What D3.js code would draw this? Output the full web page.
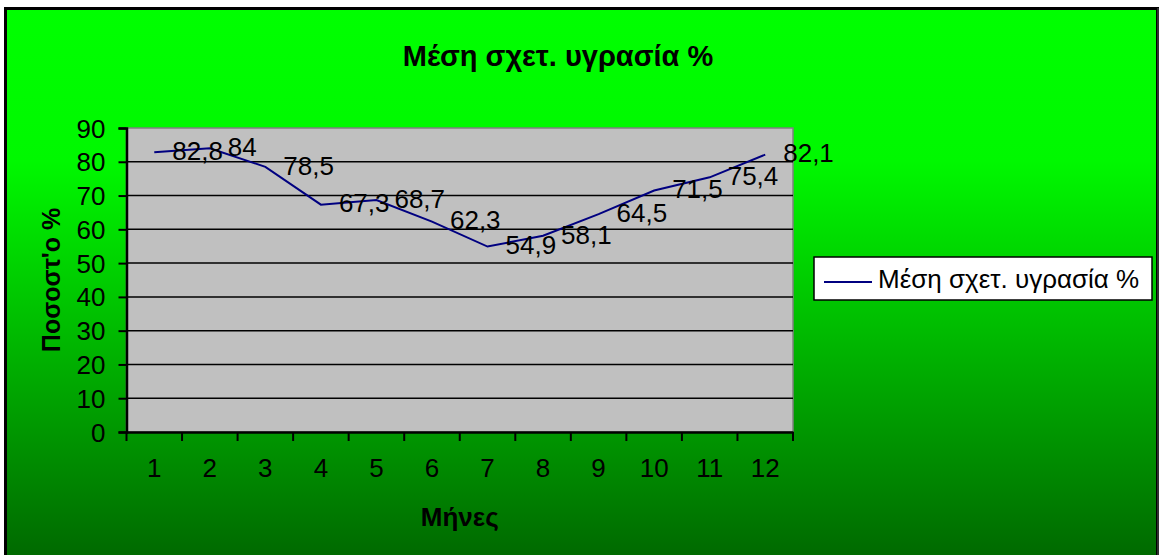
<!DOCTYPE html>
<head>
  <meta charset="utf-8">
  <script src="https://d3js.org/d3.v7.min.js"></script>
  <style>
    body { margin: 0; background: #fff; }
    text { font-family: "Liberation Sans", Arial, sans-serif; fill: #000; }
  </style>
</head>
<body>
  <div id="graph"></div>
  <script>
    // chart data
    var months = ["1", "2", "3", "4", "5", "6", "7", "8", "9", "10", "11", "12"];
    var humidity = [82.8, 84, 78.5, 67.3, 68.7, 62.3, 54.9, 58.1, 64.5, 71.5, 75.4, 82.1];
    var yTicks = [0, 10, 20, 30, 40, 50, 60, 70, 80, 90];
    var title = "Μέση σχετ. υγρασία %";
    var seriesName = "Μέση σχετ. υγρασία %";
    var xTitle = "Μήνες";
    var yTitle = "Ποσοστ'ο %";

    var width = 1159, height = 555;
    var svg = d3.select("#graph").append("svg")
      .attr("width", width)
      .attr("height", height);

    // green gradient background
    var grad = svg.append("defs").append("linearGradient")
      .attr("id", "bg")
      .attr("gradientUnits", "userSpaceOnUse")
      .attr("x1", 0).attr("y1", 8).attr("x2", 0).attr("y2", 555);
    grad.append("stop").attr("offset", 0).attr("stop-color", "#00ff00");
    grad.append("stop").attr("offset", 0.28).attr("stop-color", "#00f800");
    grad.append("stop").attr("offset", 1).attr("stop-color", "#006a00");

    svg.append("rect")
      .attr("x", 5.5).attr("y", 8.5)
      .attr("width", 1152).attr("height", 560)
      .attr("fill", "url(#bg)")
      .attr("stroke", "#000")
      .attr("stroke-width", 3);
    svg.append("line")
      .attr("x1", 1158).attr("x2", 1158).attr("y1", 8).attr("y2", 555)
      .attr("stroke", "#404040").attr("stroke-width", 1.5);

    // plot area bounds
    var pL = 126.5, pR = 793, pT = 128, pB = 432;

    var x = d3.scaleBand().domain(months).range([pL, pR]);
    var y = d3.scaleLinear().domain([0, 90]).range([pB, pT]);

    svg.append("rect")
      .attr("x", pL).attr("y", pT)
      .attr("width", pR - pL).attr("height", pB - pT)
      .attr("fill", "#c0c0c0")
      .attr("stroke", "#808080")
      .attr("stroke-width", 1.5);

    // gridlines
    svg.selectAll(".grid").data(yTicks.filter(d => d > 0 && d < 90)).enter()
      .append("line")
      .attr("class", "grid")
      .attr("x1", pL).attr("x2", pR)
      .attr("y1", d => y(d)).attr("y2", d => y(d))
      .attr("stroke", "#000")
      .attr("stroke-width", 1.5);

    // y axis
    var yAxis = svg.append("g")
      .attr("transform", "translate(" + pL + ",0)")
      .call(d3.axisLeft(y).tickValues(yTicks).tickSize(8).tickPadding(13));
    yAxis.select(".domain").attr("stroke", "#000").attr("stroke-width", 2.5);
    yAxis.selectAll(".tick line").attr("stroke", "#000").attr("stroke-width", 2);
    yAxis.selectAll("text")
      .style("font-family", "'Liberation Sans', Arial, sans-serif")
      .style("font-size", "26px").attr("fill", "#000").attr("dy", "0.35em");

    // x axis with ticks between categories
    var xAxis = svg.append("g")
      .attr("transform", "translate(0," + pB + ")")
      .call(d3.axisBottom(x).tickSize(0).tickPadding(27));
    xAxis.select(".domain").attr("stroke", "#000").attr("stroke-width", 2.5);
    xAxis.selectAll("text")
      .style("font-family", "'Liberation Sans', Arial, sans-serif")
      .style("font-size", "26px").attr("fill", "#000");
    var bounds = months.map(m => x(m)).concat([pR]);
    xAxis.selectAll(".xtick").data(bounds).enter()
      .append("line")
      .attr("class", "xtick")
      .attr("x1", d => d).attr("x2", d => d)
      .attr("y1", 0).attr("y2", 9)
      .attr("stroke", "#000").attr("stroke-width", 2);

    // series line
    var line = d3.line()
      .x((d, i) => x(months[i]) + x.bandwidth() / 2)
      .y(d => y(d));
    svg.append("path")
      .datum(humidity)
      .attr("d", line)
      .attr("fill", "none")
      .attr("stroke", "#000080")
      .attr("stroke-width", 2);

    // data labels
    svg.selectAll(".lbl").data(humidity).enter()
      .append("text")
      .attr("class", "lbl")
      .attr("x", (d, i) => x(months[i]) + x.bandwidth() / 2 + 18)
      .attr("y", d => y(d))
      .attr("dy", "0.3em")
      .style("font-size", "26px")
      .text(d => String(d).replace(".", ","));

    // titles
    svg.append("text")
      .attr("x", 558).attr("y", 66)
      .attr("text-anchor", "middle")
      .style("font-size", "29px").style("font-weight", "bold")
      .text(title);
    svg.append("text")
      .attr("x", (pL + pR) / 2).attr("y", 526)
      .attr("text-anchor", "middle")
      .style("font-size", "26px").style("font-weight", "bold")
      .text(xTitle);
    svg.append("text")
      .attr("transform", "translate(60," + (pT + pB) / 2 + ") rotate(-90)")
      .attr("text-anchor", "middle")
      .style("font-size", "25px").style("font-weight", "bold")
      .text(yTitle);

    // legend
    var lg = svg.append("g").attr("transform", "translate(814,257)");
    lg.append("rect")
      .attr("width", 338).attr("height", 43)
      .attr("fill", "#fff").attr("stroke", "#000").attr("stroke-width", 1.5);
    lg.append("line")
      .attr("x1", 10).attr("x2", 58).attr("y1", 25).attr("y2", 25)
      .attr("stroke", "#000080").attr("stroke-width", 2);
    lg.append("text")
      .attr("x", 64).attr("y", 31)
      .style("font-size", "26px")
      .text(seriesName);
  </script>
</body>
